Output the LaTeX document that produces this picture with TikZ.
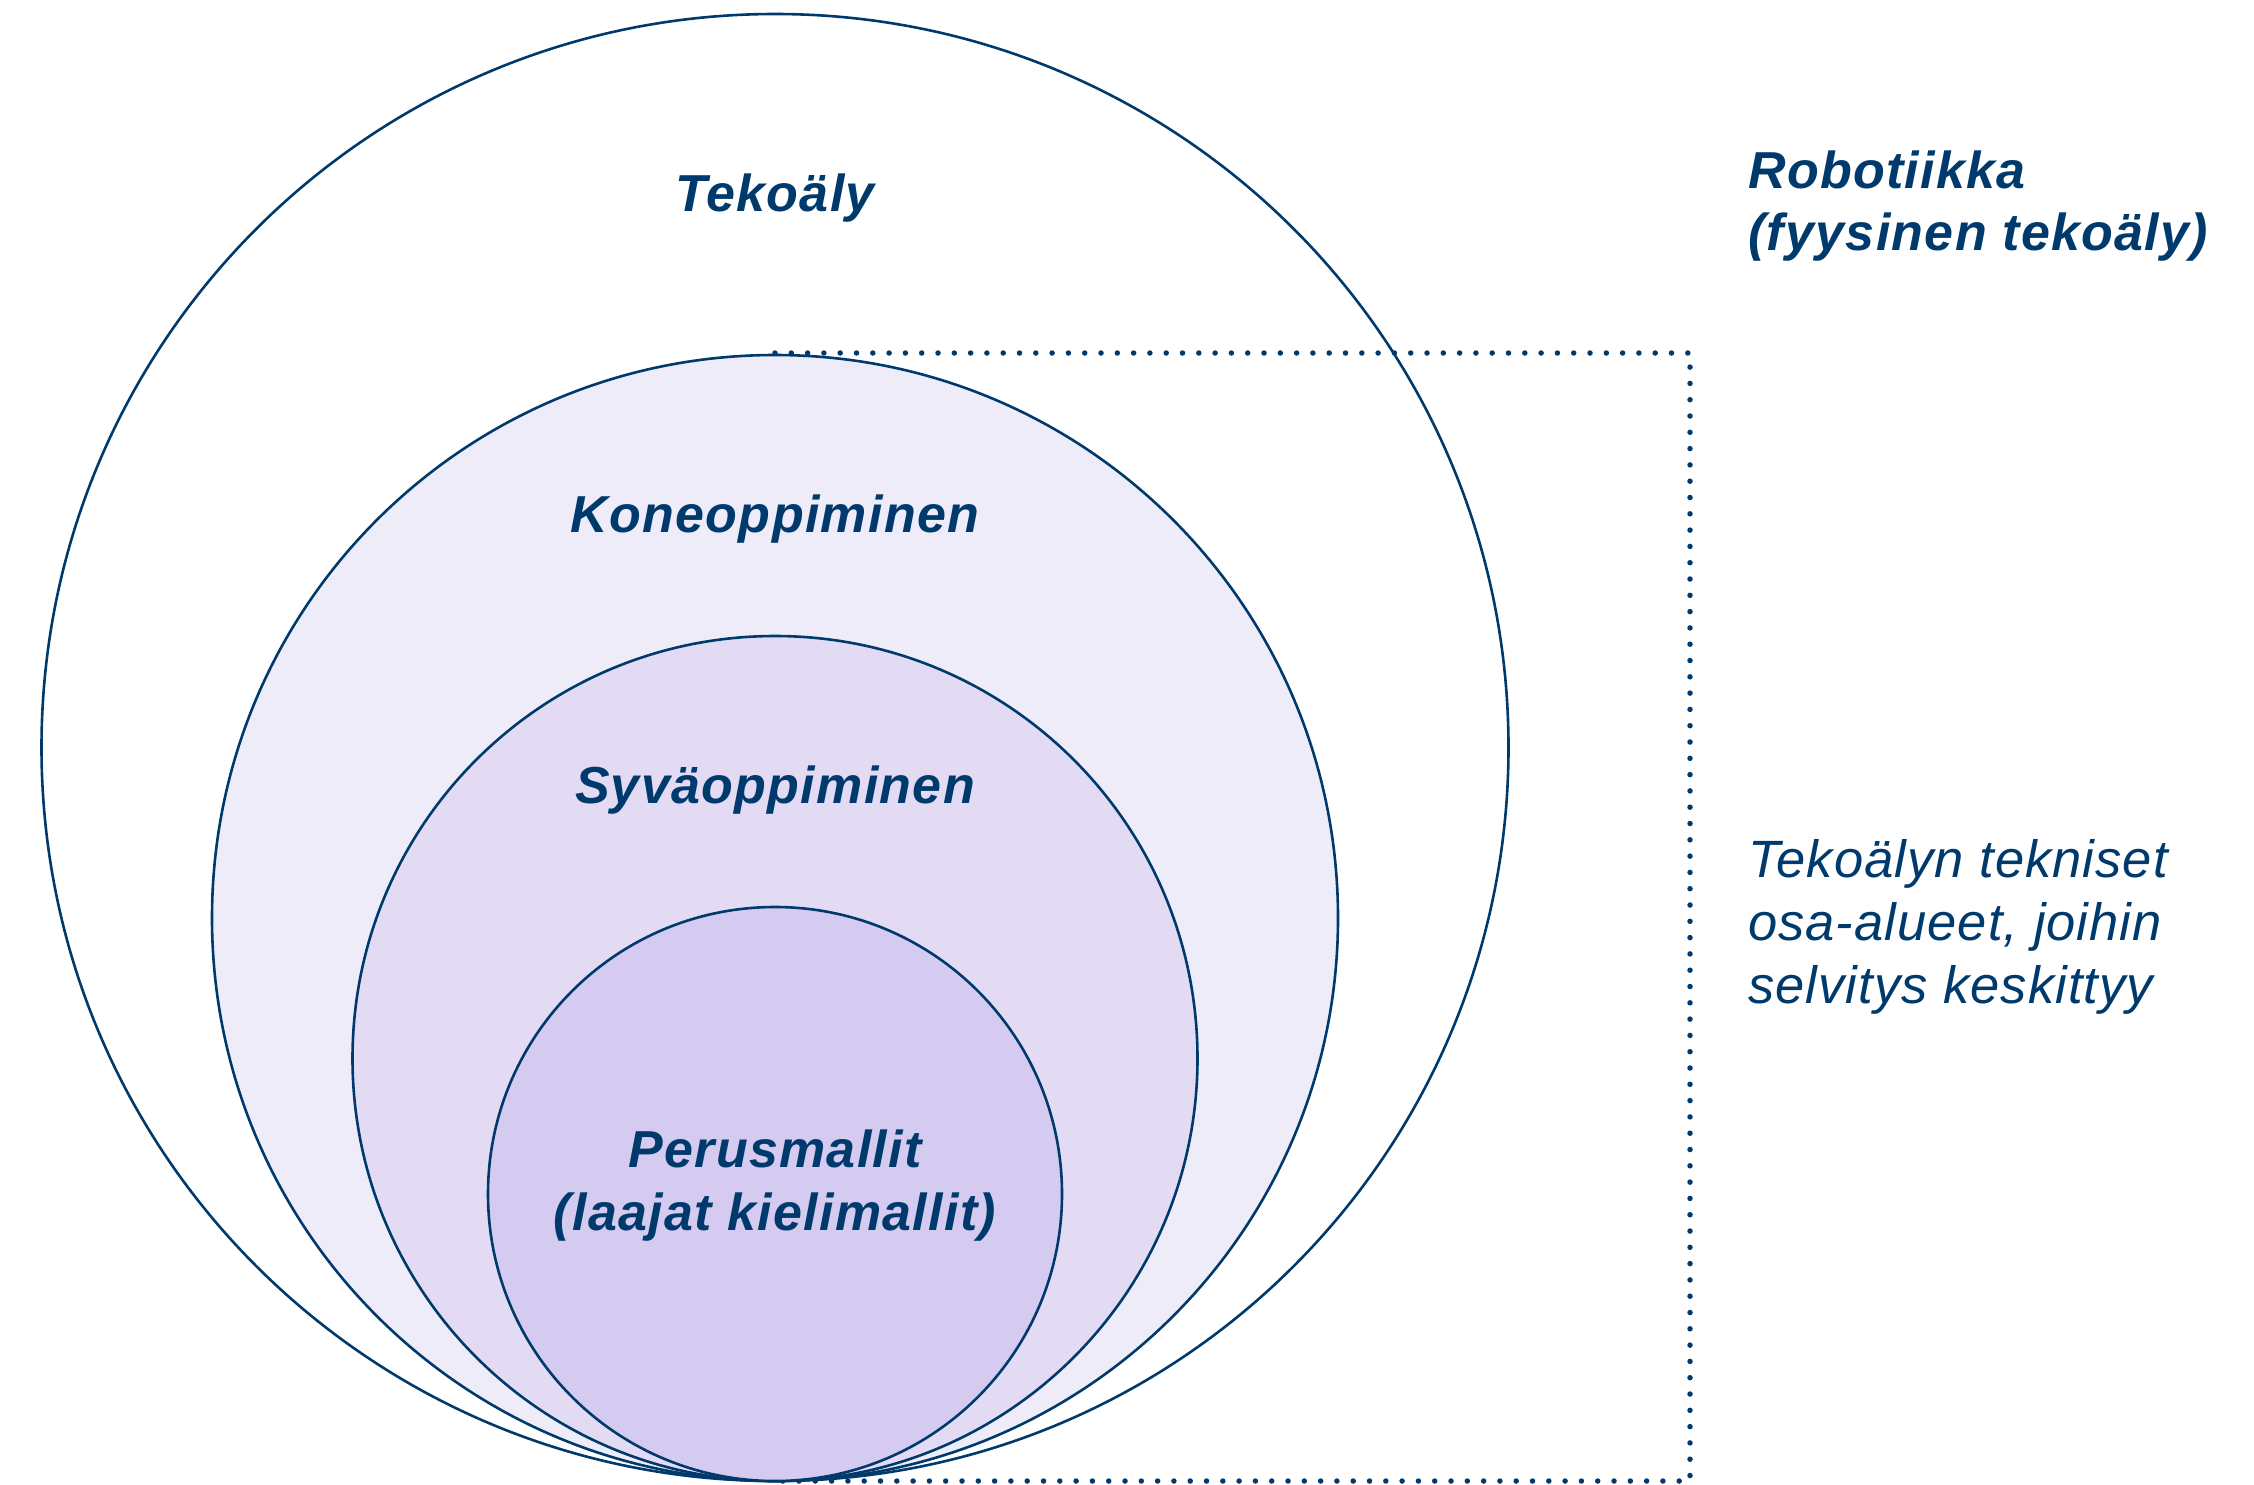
\documentclass[tikz,border=0pt]{standalone}
\usepackage{fontspec}
\setmainfont{Liberation Sans}
\newfontfamily\lblfont[LetterSpace=2.5]{Liberation Sans}
\newfontfamily\notefont[LetterSpace=2]{Liberation Sans}
\definecolor{navy}{RGB}{0,58,108}
\definecolor{fillA}{RGB}{239,236,249}
\definecolor{fillB}{RGB}{227,219,244}
\definecolor{fillC}{RGB}{213,202,239}
\begin{document}
\begin{tikzpicture}[x=1pt,y=-1pt,
  ring/.style={draw=navy,line width=2.6pt},
  lbl/.style={text=navy,inner sep=0pt,font=\lblfont\fontsize{52}{64}\selectfont\bfseries\itshape},
  note/.style={text=navy,inner sep=0pt,font=\notefont\fontsize{52.5}{64}\selectfont\itshape},
  dotline/.style={draw=navy,line width=5.5pt,line cap=round,dash pattern=on 0pt off 16.3pt}]
\useasboundingbox (0,0) rectangle (2254,1484);
% dotted frame
\coordinate (ftl) at (775,353);
\coordinate (ftr) at (1690,353);
\coordinate (fbr) at (1690,1481);
\coordinate (fbl) at (775,1481);
\draw[dotline] (ftl) -- (ftr) -- (fbr) -- (fbl);
% circles
\draw[ring] (775,747.5) circle[radius=733.5pt];
\draw[ring,fill=fillA] (775,918) circle[radius=563pt];
\draw[ring,fill=fillB] (775,1058.5) circle[radius=422.5pt];
\draw[ring,fill=fillC] (775,1194) circle[radius=287pt];
% labels
\node[lbl,anchor=base] (tek) at (775,211) {Tekoäly};
\node[lbl,anchor=base] (kone) at (775,532) {Koneoppiminen};
\node[lbl,anchor=base] (syva) at (775,803) {Syväoppiminen};
\node[lbl,anchor=base] (perus1) at (775,1167) {Perusmallit};
\node[lbl,anchor=base] (perus2) at (775,1230) {(laajat kielimallit)};
\node[lbl,anchor=base west] (rob1) at (1748,188) {Robotiikka};
\node[lbl,anchor=base west] (rob2) at (1748,250) {(fyysinen tekoäly)};
\node[note,anchor=base west] (n1) at (1748,877) {Tekoälyn tekniset};
\node[note,anchor=base west] (n2) at (1748,940) {osa-alueet, joihin};
\node[note,anchor=base west] (n3) at (1748,1003) {selvitys keskittyy};
\end{tikzpicture}
\end{document}
